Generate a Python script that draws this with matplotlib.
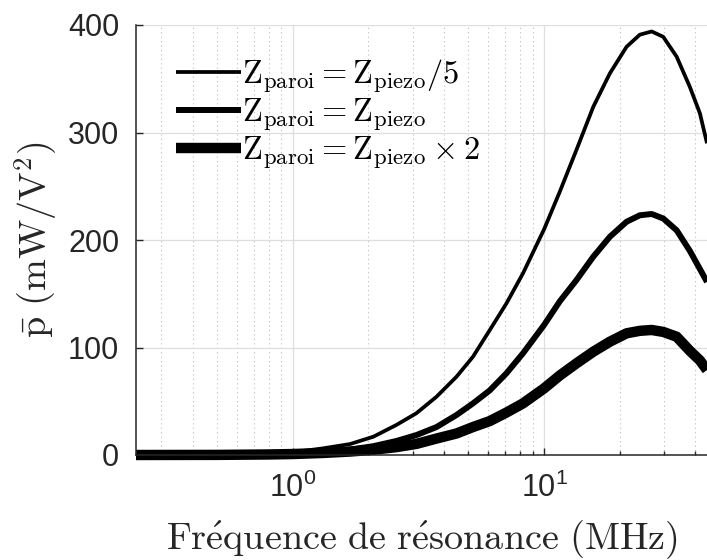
import numpy as np
import matplotlib
matplotlib.use('Agg')
import matplotlib.pyplot as plt
from matplotlib.font_manager import FontProperties

# frequences de resonance (MHz) et puissance moyenne (mW/V^2)
freq = [0.2375, 0.5, 0.8, 1.0, 1.32, 1.69, 2.09, 2.58, 3.1, 3.73, 4.48, 5.21,
        6.07, 7.08, 8.24, 10.0, 11.55, 13.46, 15.7, 18.27, 21.3, 24.05, 26.8,
        29.8, 33.7, 38.0, 41.7, 44.5]
p_div5 = [0.0, 0.3, 1.2, 2.5, 6.2, 10.2, 17.0, 27.9, 38.8, 54.2, 72.8, 91.4,
          116.0, 141.0, 169.0, 210.0, 245.0, 284.0, 324.0, 355.0, 379.8, 391.0,
          394.0, 389.0, 370.5, 342.6, 317.8, 290.0]
p_eq = [0.0, 0.2, 0.8, 1.5, 3.0, 5.0, 8.2, 13.0, 18.5, 26.0, 37.2, 48.0,
        60.0, 76.0, 94.6, 121.0, 143.0, 162.8, 184.5, 203.0, 217.0, 223.0,
        224.2, 220.0, 209.0, 190.0, 173.0, 161.0]
p_x2 = [0.0, 0.1, 0.5, 0.9, 1.9, 3.2, 4.9, 7.3, 10.3, 15.3, 20.0, 26.0,
        31.5, 39.5, 48.0, 62.0, 74.0, 85.3, 96.1, 105.4, 113.2, 115.5,
        116.3, 114.5, 110.0, 97.0, 88.0, 79.0]
labels = [r'$\mathrm{Z_{paroi}} = \mathrm{Z_{piezo}}/5$',
          r'$\mathrm{Z_{paroi}} = \mathrm{Z_{piezo}}$',
          r'$\mathrm{Z_{paroi}} = \mathrm{Z_{piezo}} \times 2$']
yticks = [0, 100, 200, 300, 400]

plt.rcParams['font.family'] = ['Liberation Sans', 'DejaVu Sans']
plt.rcParams['mathtext.fontset'] = 'custom'
plt.rcParams['mathtext.rm'] = 'Liberation Sans'
plt.rcParams['mathtext.it'] = 'Liberation Sans:italic'

grey = '#262626'

fig = plt.figure(figsize=(7.07, 5.6), dpi=100)
ax = fig.add_axes([136/707., 105/560., 571/707., 430/560.])

ax.plot(freq, p_div5, 'k', lw=2.7, label=labels[0], clip_on=False, solid_capstyle='butt')
ax.plot(freq, p_eq, 'k', lw=4.3, label=labels[1], clip_on=False, solid_capstyle='butt')
ax.plot(freq, p_x2, 'k', lw=7.5, label=labels[2], clip_on=False, solid_capstyle='butt')

ax.set_xscale('log')
ax.set_xlim(freq[0], freq[-1])
ax.set_ylim(0, 400)
ax.set_yticks(yticks)

ax.grid(True, which='major', color='#dedede', lw=0.9, ls='-')
ax.grid(True, which='minor', axis='x', color='#bdbdbd', lw=0.8, ls=(0, (1, 3)))
ax.set_axisbelow(True)

ax.spines['top'].set_visible(False)
ax.spines['right'].set_visible(False)
for s in ['left', 'bottom']:
    ax.spines[s].set_color(grey)
    ax.spines[s].set_linewidth(1.1)
ax.tick_params(which='both', direction='in', colors=grey, labelsize=22)
ax.tick_params(which='major', length=5, width=1.0)
ax.tick_params(which='minor', length=3, width=1.0)
ax.tick_params(axis='x', pad=13)
ax.tick_params(axis='y', pad=12)

ax.set_xlabel(r"$\mathrm{Fr\'{e}quence\ de\ r\'{e}sonance\ (MHz)}$",
              fontsize=27.5, color=grey, math_fontfamily='cm', labelpad=10)
ax.set_ylabel(r'$\bar{\mathrm{p}}\ (\mathrm{mW/V^2})$',
              fontsize=27.5, color=grey, math_fontfamily='cm', labelpad=6)

leg_font = FontProperties(size=23.4, math_fontfamily='cm')
pl = ax.legend(loc='upper left', bbox_to_anchor=(0.047, 0.955), prop=leg_font,
               frameon=False, handlelength=2.0, handletextpad=0.05,
               labelspacing=0.05, borderaxespad=0)
for t in pl.get_texts():
    t.set_color('k')

fig.savefig('out.png', dpi=100)
plt.close(fig)
